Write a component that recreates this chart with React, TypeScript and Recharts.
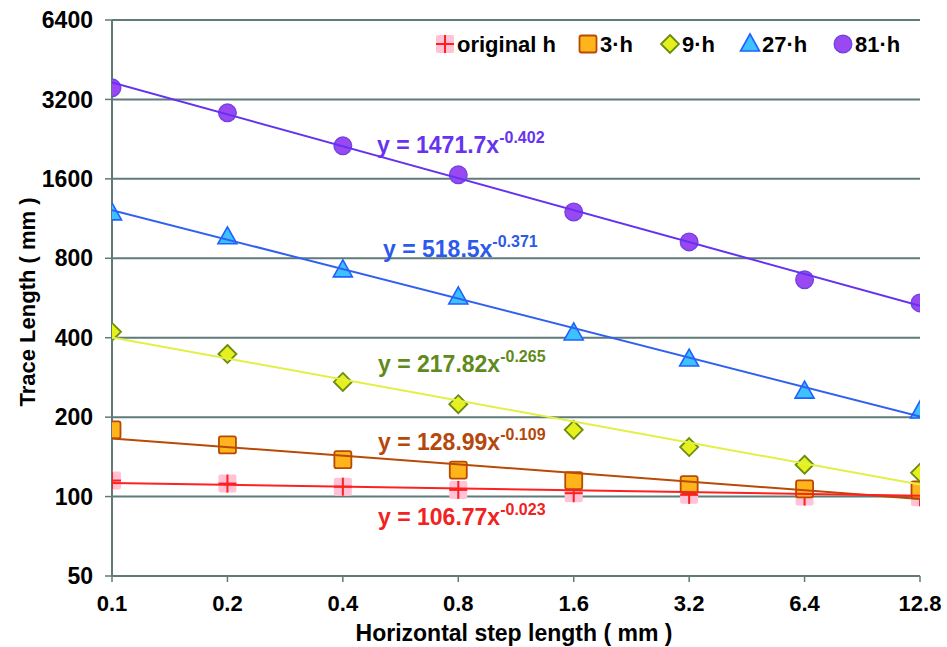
import React from 'react';
import { ComposedChart, Scatter, XAxis, YAxis, CartesianGrid, Label } from 'recharts';

const xValues = [0.1, 0.2, 0.4, 0.8, 1.6, 3.2, 6.4, 12.8];
const originalH = [115, 112, 109, 106, 103, 101.5, 100, 99.5];
const h3 = [179, 157, 138, 126, 115, 111, 107, 106];
const h9 = [421, 347, 272, 224, 179, 154, 132, 123];
const h27 = [1189, 965, 723, 571, 417, 332, 251, 211];
const h81 = [3540, 2846, 2134, 1657, 1199, 923, 663, 542];

// trendline end values at x = 0.1 and x = 12.8
const trendX = [0.1, 12.8];
const trendOriginal = [112.6, 100.7];
const trend3 = [166, 98];
const trend9 = [401, 111];
const trend27 = [1218, 201];
const trend81 = [3713, 528];

const yTicks = [50, 100, 200, 400, 800, 1600, 3200, 6400];
const xTicks = [0.1, 0.2, 0.4, 0.8, 1.6, 3.2, 6.4, 12.8];

const seriesNames = ['original h', '3·h', '9·h', '27·h', '81·h'];
const equations = [
  { base: 'y = 1471.7x', exp: '-0.402', color: '#6634ee' },
  { base: 'y = 518.5x', exp: '-0.371', color: '#2c5aea' },
  { base: 'y = 217.82x', exp: '-0.265', color: '#5f8a1c' },
  { base: 'y = 128.99x', exp: '-0.109', color: '#b4470c' },
  { base: 'y = 106.77x', exp: '-0.023', color: '#f02222' },
];
const eqPos = [
  { x: 377, y: 153 },
  { x: 383, y: 257 },
  { x: 378, y: 372 },
  { x: 378, y: 450 },
  { x: 378, y: 525 },
];

const FONT = '"Liberation Sans", Arial, sans-serif';
const GRID = '#5f7a78';

const toPts = (ys: number[], xs: number[] = xValues) => xs.map((x, i) => ({ x, y: ys[i] }));

const OrigShape = (p: any) => (
  <g>
    <rect x={p.cx - 9} y={p.cy - 9} width={18} height={18} rx={2} fill="#ffc2d6" />
    <line x1={p.cx - 9} y1={p.cy} x2={p.cx + 9} y2={p.cy} stroke="#ff1f1f" strokeWidth={2} />
    <line x1={p.cx} y1={p.cy - 9} x2={p.cx} y2={p.cy + 9} stroke="#ff1f1f" strokeWidth={2} />
  </g>
);
const SquareShape = (p: any) => (
  <rect x={p.cx - 8.5} y={p.cy - 8.5} width={17} height={17} rx={2} fill="#ffb41c" stroke="#b84a06" strokeWidth={1.8} />
);
const DiamondShape = (p: any) => (
  <polygon
    points={`${p.cx},${p.cy - 9} ${p.cx + 9},${p.cy} ${p.cx},${p.cy + 9} ${p.cx - 9},${p.cy}`}
    fill="#e6f01e"
    stroke="#6a8c12"
    strokeWidth={1.8}
  />
);
const TriangleShape = (p: any) => (
  <polygon
    points={`${p.cx},${p.cy - 10} ${p.cx + 9.5},${p.cy + 7} ${p.cx - 9.5},${p.cy + 7}`}
    fill="#3fc0ff"
    stroke="#1c62ff"
    strokeWidth={1.6}
  />
);
const CircleShape = (p: any) => (
  <circle cx={p.cx} cy={p.cy} r={8.8} fill="#9a48f2" stroke="#7044e4" strokeWidth={1.4} />
);
const NoShape = () => <g />;

const legendMarkers = [
  (cx: number, cy: number) => OrigShape({ cx, cy }),
  (cx: number, cy: number) => SquareShape({ cx, cy }),
  (cx: number, cy: number) => DiamondShape({ cx, cy }),
  (cx: number, cy: number) => TriangleShape({ cx, cy }),
  (cx: number, cy: number) => CircleShape({ cx, cy }),
];
const legendX = [436, 579, 661, 741, 834];

export default function App() {
  return (
    <div style={{ position: 'absolute', left: 0, top: 0, width: 947, height: 647, background: '#fff' }}>
      <ComposedChart width={947} height={647} margin={{ top: 20, right: 27, bottom: 0, left: 40 }}>
        <CartesianGrid vertical={false} stroke={GRID} strokeWidth={2} />
        <XAxis
          dataKey="x"
          type="number"
          scale="log"
          domain={[0.1, 12.8]}
          ticks={xTicks}
          allowDataOverflow
          height={71}
          tickSize={6}
          tickMargin={13}
          stroke={GRID}
          axisLine={{ stroke: GRID, strokeWidth: 2 }}
          tickLine={{ stroke: GRID, strokeWidth: 1.5 }}
          tick={{ fontSize: 22, fontWeight: 'bold', fill: '#000', fontFamily: FONT }}
          tickFormatter={(v: number) => String(v)}
        >
          <Label
            content={() => (
              <text x={514} y={641} textAnchor="middle" fontSize={23} fontWeight="bold" fontFamily={FONT} fill="#000">
                Horizontal step length ( mm )
              </text>
            )}
          />
        </XAxis>
        <YAxis
          dataKey="y"
          type="number"
          scale="log"
          domain={[50, 6400]}
          ticks={yTicks}
          allowDataOverflow
          width={72}
          tickSize={7}
          tickMargin={12}
          stroke={GRID}
          axisLine={{ stroke: GRID, strokeWidth: 2 }}
          tickLine={{ stroke: GRID, strokeWidth: 1.5 }}
          tick={{ fontSize: 23, fontWeight: 'bold', fill: '#000', fontFamily: FONT }}
        >
          <Label
            content={() => (
              <text
                x={35}
                y={302}
                transform="rotate(-90 35 302)"
                textAnchor="middle"
                fontSize={22}
                fontWeight="bold"
                fontFamily={FONT}
                fill="#000"
              >
                Trace Length ( mm )
              </text>
            )}
          />
        </YAxis>

        <Scatter name={seriesNames[0]} data={toPts(originalH)} shape={OrigShape} isAnimationActive={false} />
        <Scatter name={seriesNames[1]} data={toPts(h3)} shape={SquareShape} isAnimationActive={false} />
        <Scatter name={seriesNames[2]} data={toPts(h9)} shape={DiamondShape} isAnimationActive={false} />
        <Scatter name={seriesNames[3]} data={toPts(h27)} shape={TriangleShape} isAnimationActive={false} />
        <Scatter name={seriesNames[4]} data={toPts(h81)} shape={CircleShape} isAnimationActive={false} />

        <Scatter data={toPts(trend9, trendX)} line={{ stroke: '#e2f044', strokeWidth: 2 }} shape={NoShape} isAnimationActive={false} />
        <Scatter data={toPts(trend3, trendX)} line={{ stroke: '#b84a06', strokeWidth: 2 }} shape={NoShape} isAnimationActive={false} />
        <Scatter data={toPts(trendOriginal, trendX)} line={{ stroke: '#ff2020', strokeWidth: 2 }} shape={NoShape} isAnimationActive={false} />
        <Scatter data={toPts(trend27, trendX)} line={{ stroke: '#3060f0', strokeWidth: 2 }} shape={NoShape} isAnimationActive={false} />
        <Scatter data={toPts(trend81, trendX)} line={{ stroke: '#6432f0', strokeWidth: 2 }} shape={NoShape} isAnimationActive={false} />
      </ComposedChart>

      <svg width={947} height={647} style={{ position: 'absolute', left: 0, top: 0, pointerEvents: 'none' }}>
        {equations.map((eq, i) => (
          <text key={i} x={eqPos[i].x} y={eqPos[i].y} fontFamily={FONT} fontWeight="bold" fill={eq.color} fontSize={23}>
            {eq.base}
            <tspan fontSize={16} dy={-10}>{eq.exp}</tspan>
          </text>
        ))}
        {seriesNames.map((name, i) => (
          <g key={name}>
            {legendMarkers[i](legendX[i] + 9, 44)}
            <text x={legendX[i] + 21} y={52} fontFamily={FONT} fontWeight="bold" fontSize={22} fill="#000">
              {name}
            </text>
          </g>
        ))}
      </svg>
    </div>
  );
}
